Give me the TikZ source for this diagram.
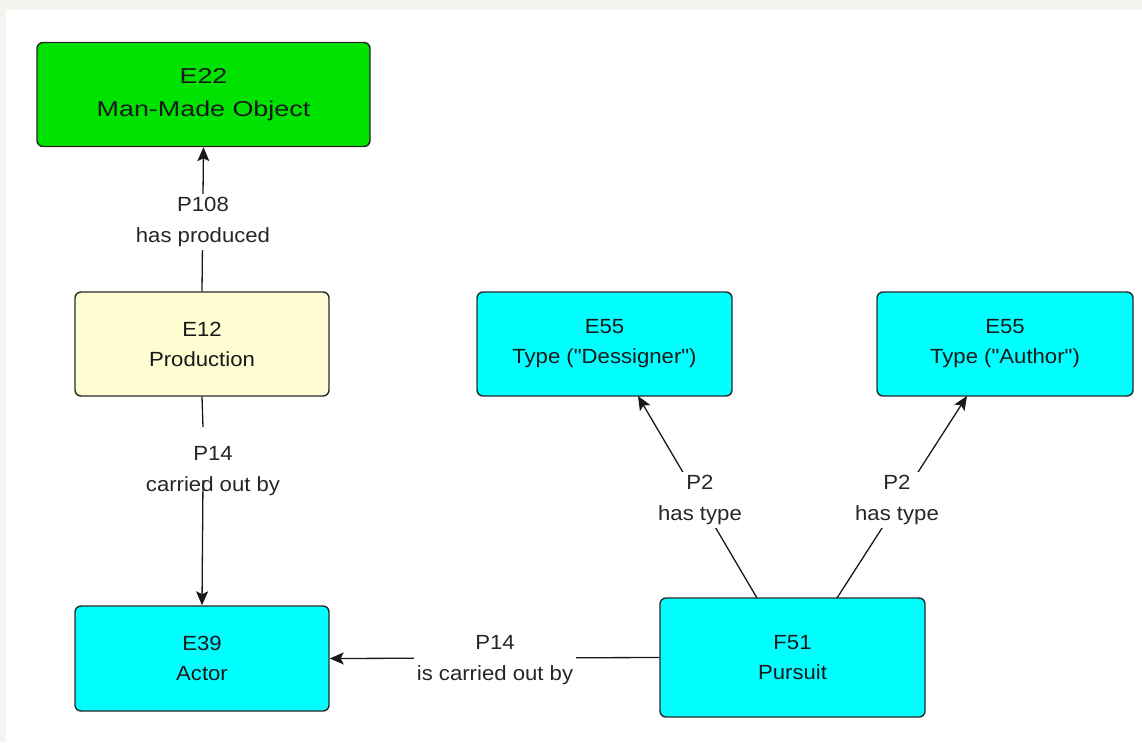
\documentclass[tikz,border=0pt]{standalone}
\usepackage{fontspec}
\setmainfont{Liberation Sans}
\newfontfamily\nodefont[FakeStretch=1.08]{Liberation Sans}
\newfontfamily\bigfont[FakeStretch=1.25]{Liberation Sans}
\usetikzlibrary{arrows.meta}
\definecolor{bgbeige}{RGB}{245,244,238}
\definecolor{objgreen}{RGB}{0,226,0}
\definecolor{prodyellow}{RGB}{255,253,210}
\definecolor{entcyan}{RGB}{0,255,255}
\definecolor{edgegray}{RGB}{40,40,40}
\tikzset{
  entity/.style={draw=edgegray, line width=1.4pt, rounded corners=6pt, align=center,
    inner sep=0pt, font=\nodefont\fontsize{20.5}{30}\selectfont, text=black!90},
  rel/.style={fill=white, align=center, inner sep=3pt, font=\nodefont\fontsize{20.5}{31}\selectfont, text=black!85},
  conn/.style={line width=1.3pt, draw=black!90},
  arr/.style={conn, -{Stealth[length=14pt,width=12pt,inset=3pt]}}
}
\begin{document}
\begin{tikzpicture}[x=1pt,y=-1pt]
\fill[bgbeige] (0,0) rectangle (1142,742);
\fill[white] (6,10) rectangle (1142,742);
\useasboundingbox (0,0) rectangle (1142,742);

\node[entity, fill=objgreen, minimum width=333pt, minimum height=104pt,
  font=\bigfont\fontsize{21.5}{33}\selectfont] (E22) at (203.5,94.5) {E22\\Man-Made Object};
\node[entity, fill=prodyellow, minimum width=254pt, minimum height=104pt] (E12) at (202,344) {E12\\Production};
\node[entity, fill=entcyan, minimum width=254pt, minimum height=105pt] (E39) at (202,658.5) {E39\\Actor};
\node[entity, fill=entcyan, minimum width=255pt, minimum height=104pt] (E55a) at (604.5,344) {E55\\Type ("Dessigner")};
\node[entity, fill=entcyan, minimum width=256pt, minimum height=104pt] (E55b) at (1005,344) {E55\\Type ("Author")};
\node[entity, fill=entcyan, minimum width=265pt, minimum height=119pt] (F51) at (792.5,657.5) {F51\\Pursuit};

\coordinate (F51a) at (757,598);
\coordinate (F51b) at (837,598);
\coordinate (E55aend) at (638,396);
\coordinate (E55bend) at (967,396);
\coordinate (P14top) at (203,427);
\coordinate (P14bot) at (203,480);

\draw[arr] (E12.north) -- (E22.south);
\draw[conn] (E12.south) -- (P14top);
\draw[arr] (P14bot) -- (E39.north);
\draw[arr] (F51.west) -- (E39.east);
\draw[arr] (F51a) -- (E55aend);
\draw[arr] (F51b) -- (E55bend);

\node[rel] (L1) at (203,222) {P108\\has produced};
\node[rel, fill=none] (L2) at (213,471) {P14\\carried out by};
\node[rel] (L3) at (495,660) {P14\\is carried out by};
\node[rel] (L4) at (700,500) {P2\\has type};
\node[rel] (L5) at (897,500) {P2\\has type};
\end{tikzpicture}
\end{document}
